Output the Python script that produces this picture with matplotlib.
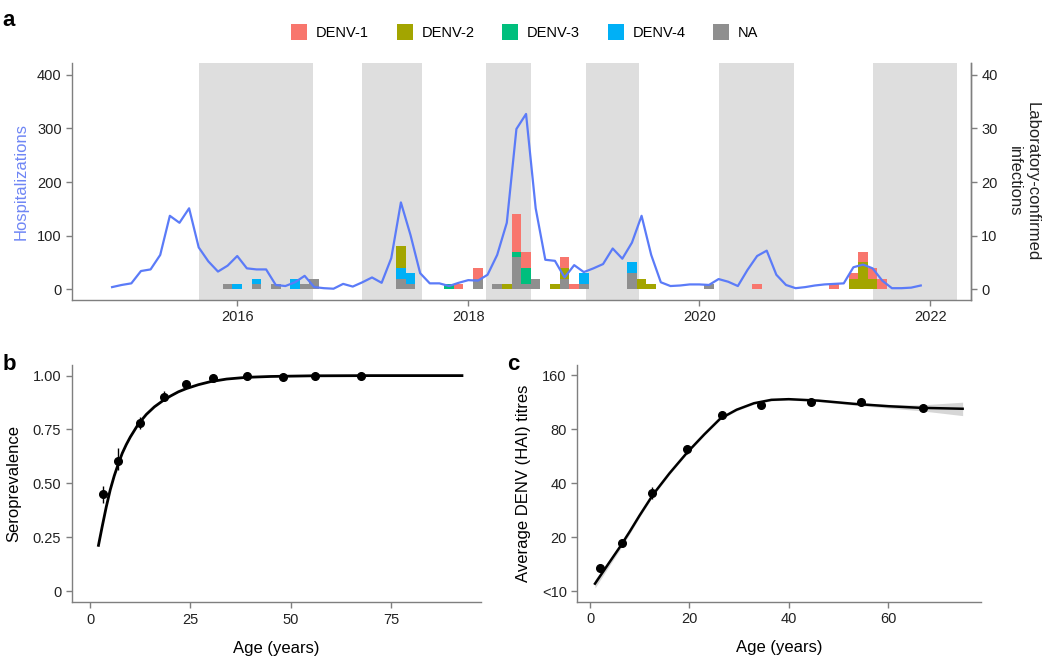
import matplotlib
matplotlib.use("Agg")
import matplotlib.pyplot as plt
from matplotlib.patches import Patch
import pandas as pd

plt.rcParams['font.family'] = ['Liberation Sans', 'DejaVu Sans']

# ---- panel a: monthly hospitalizations (Dec 2014 - Dec 2021)
hosp_start, hosp_end = '2014-12', '2021-12'
hospitalizations = [4,
    8, 11, 34, 37, 64, 137, 124, 151, 78, 52, 33, 44,    # 2015
    62, 39, 37, 37, 8, 6, 13, 25, 4, 2, 1, 10,           # 2016
    5, 13, 22, 12, 58, 162, 101, 30, 11, 11, 6, 12,      # 2017
    17, 16, 27, 64, 124, 299, 327, 151, 55, 53, 22, 45,  # 2018
    32, 39, 47, 76, 57, 87, 137, 64, 13, 6, 7, 9,        # 2019
    9, 8, 19, 14, 6, 36, 62, 72, 27, 8, 2, 4,            # 2020
    7, 9, 10, 11, 41, 46, 39, 16, 2, 2, 3, 7]            # 2021

# lab-confirmed infections per month, by serotype
bar_months = ['2015-12', '2016-01', '2016-03', '2016-05', '2016-07', '2016-08', '2016-09',
              '2017-06', '2017-07', '2017-11', '2017-12', '2018-02', '2018-04', '2018-05',
              '2018-06', '2018-07', '2018-08', '2018-10', '2018-11', '2018-12', '2019-01',
              '2019-06', '2019-07', '2019-08', '2020-02', '2020-07', '2021-03', '2021-05',
              '2021-06', '2021-07', '2021-08']
na_cnt = [1, 0, 1, 1, 0, 1, 2, 2, 1, 0, 0, 2, 1, 0, 6, 1, 2, 0, 2, 0, 1, 3, 0, 0, 1, 0, 0, 0, 0, 0, 0]
denv4 = [0, 1, 1, 0, 2, 0, 0, 2, 2, 0, 0, 0, 0, 0, 0, 0, 0, 0, 0, 0, 2, 2, 0, 0, 0, 0, 0, 0, 0, 0, 0]
denv3 = [0, 0, 0, 0, 0, 0, 0, 0, 0, 1, 0, 0, 0, 0, 1, 3, 0, 0, 0, 0, 0, 0, 0, 0, 0, 0, 0, 0, 0, 0, 0]
denv2 = [0, 0, 0, 0, 0, 0, 0, 4, 0, 0, 0, 0, 0, 1, 0, 0, 0, 1, 2, 0, 0, 0, 2, 1, 0, 0, 0, 2, 5, 2, 0]
denv1 = [0, 0, 0, 0, 0, 0, 0, 0, 0, 0, 1, 2, 0, 0, 7, 3, 0, 0, 2, 1, 0, 0, 0, 0, 0, 1, 1, 1, 2, 2, 2]

# shaded periods (decimal years)
shade_start = [2015.67, 2017.08, 2018.15, 2019.02, 2020.17, 2021.50]
shade_end = [2016.66, 2017.60, 2018.54, 2019.48, 2020.82, 2022.23]

# ---- panel b: seroprevalence by age
b_age = [3.1, 7.0, 12.5, 18.5, 24.0, 30.5, 39.0, 48.0, 56.0, 67.5]
b_prev = [0.449, 0.604, 0.782, 0.901, 0.960, 0.988, 0.996, 0.993, 1.0, 0.998]
b_lo = [0.41, 0.56, 0.75, 0.88, 0.95, 0.98, 0.99, 0.988, 0.997, 0.995]
b_hi = [0.49, 0.665, 0.81, 0.93, 0.97, 0.993, 0.999, 0.997, 1.0, 1.0]
b_fit_age = [2, 3, 4, 5, 6, 7, 8, 9, 10, 12, 14, 16, 18, 20, 22, 24, 27, 30, 34, 39, 45, 55, 70, 93]
b_fit = [0.206, 0.30, 0.39, 0.47, 0.535, 0.59, 0.64, 0.68, 0.715, 0.775, 0.82, 0.855, 0.882,
         0.905, 0.925, 0.94, 0.958, 0.972, 0.984, 0.992, 0.996, 0.999, 1.0, 1.0]

# ---- panel c: average HAI titres by age
c_age = [2.0, 6.5, 12.5, 19.5, 26.5, 34.5, 44.5, 54.5, 67.0]
c_titre = [13.5, 18.5, 35.1, 61.8, 96.6, 108.8, 114.1, 114.1, 105.6]
c_lo = [12.9, 17.6, 32.5, 58.5, 92, 105, 110.5, 111, 102.5]
c_hi = [14.1, 19.4, 38, 65.5, 101, 112.5, 117.5, 117, 108.5]
c_fit_age = [1, 4, 6, 8, 10, 12.75, 16, 19.5, 23, 26.2, 29.5, 33, 36.5, 40, 46, 53, 60, 66.4, 75]
c_fit = [11.0, 14.6, 17.6, 21.5, 26.5, 34.8, 45.5, 59.2, 75, 91.8, 103, 112, 117, 118,
         115.8, 111.2, 107.8, 105.6, 104.3]
c_fit_lo = [10.4, 14.0, 17.0, 20.9, 25.9, 34.1, 44.7, 58.3, 74, 90.5, 101.6, 110.5, 115.5, 116.5,
            114.2, 109.3, 105.3, 101.8, 95.5]
c_fit_hi = [11.6, 15.2, 18.2, 22.1, 27.1, 35.5, 46.3, 60.1, 76, 93.1, 104.4, 113.5, 118.5, 119.5,
            117.4, 113.1, 110.3, 109.5, 113.5]

colors = {'DENV-1': '#F8766D', 'DENV-2': '#A3A500', 'DENV-3': '#00BF7D',
          'DENV-4': '#00B0F6', 'NA': '#8F8F8F'}
line_blue = '#5B7BF8'
spine_col = '#7F7F7F'
tick_fs = 10.5
lab_fs = 12


def to_year(s):
    y, m = s.split('-')
    return int(y) + (int(m) - 1) / 12


def style(ax, right=False):
    ax.spines['top'].set_visible(False)
    if not right:
        ax.spines['right'].set_visible(False)
    for sp in ax.spines.values():
        sp.set_color(spine_col)
        sp.set_linewidth(1.0)
    ax.tick_params(colors=spine_col, labelcolor='#222222', labelsize=tick_fs, length=4, width=1)


fig = plt.figure(figsize=(10.5, 6.6), dpi=100)

# ---------------- panel a
ax = fig.add_axes([0.0686, 0.5455, 0.856, 0.359])
ax2 = ax.twinx()
ax.set_zorder(ax2.get_zorder() + 1)
ax.patch.set_visible(False)

for s, e in zip(shade_start, shade_end):
    ax2.axvspan(s, e, color='#DEDEDE', lw=0, zorder=0)

bx = [to_year(m) for m in bar_months]
bottom = [0] * len(bx)
for name, vals in [('NA', na_cnt), ('DENV-4', denv4), ('DENV-3', denv3),
                   ('DENV-2', denv2), ('DENV-1', denv1)]:
    ax2.bar(bx, vals, width=1 / 12, bottom=bottom, color=colors[name], lw=0, zorder=2)
    bottom = [b + v for b, v in zip(bottom, vals)]

hx = [p.year + (p.month - 1) / 12 for p in pd.period_range(hosp_start, hosp_end, freq='M')]
ax.plot(hx, hospitalizations, color=line_blue, lw=1.6, zorder=3)

ax.set_xlim(2014.57, 2022.35)
ax.set_ylim(-20, 422)
ax2.set_ylim(-2, 42.2)
ax.set_xticks([2016, 2018, 2020, 2022])
ax.set_yticks([0, 100, 200, 300, 400])
ax2.set_yticks([0, 10, 20, 30, 40])
style(ax, right=True)
style(ax2, right=True)
ax2.spines['left'].set_visible(False)
ax2.spines['bottom'].set_visible(False)
ax.set_ylabel('Hospitalizations', color='#6F86F5', fontsize=lab_fs, labelpad=6)
ax2.set_ylabel('Laboratory-confirmed\ninfections', fontsize=lab_fs, rotation=-90,
               labelpad=30, color='#222222')

handles = [Patch(facecolor=colors[k], edgecolor='none', label=k) for k in colors]
fig.legend(handles=handles, loc='center', bbox_to_anchor=(0.50, 0.951), ncol=5,
           frameon=False, fontsize=10.5, handlelength=1.1, handleheight=1.3,
           columnspacing=1.9, handletextpad=0.6)

# ---------------- panel b
axb = fig.add_axes([0.0683, 0.0874, 0.3898, 0.3595])
axb.plot(b_fit_age, b_fit, color='black', lw=2.0, solid_capstyle='butt')
axb.vlines(b_age, b_lo, b_hi, color='black', lw=1)
axb.plot(b_age, b_prev, 'o', color='black', ms=5.5)
axb.set_xlim(-4.6, 97.4)
axb.set_ylim(-0.052, 1.049)
axb.set_xticks([0, 25, 50, 75])
axb.set_yticks([0, 0.25, 0.5, 0.75, 1.0])
axb.set_yticklabels(['0', '0.25', '0.50', '0.75', '1.00'])
style(axb)
axb.set_xlabel('Age (years)', fontsize=lab_fs, labelpad=10)
axb.set_ylabel('Seroprevalence', fontsize=lab_fs, labelpad=8)

# ---------------- panel c
axc = fig.add_axes([0.5498, 0.0883, 0.3845, 0.3586])
axc.set_yscale('log', base=2)
axc.fill_between(c_fit_age, c_fit_lo, c_fit_hi, color='#D6D6D6', lw=0)
axc.plot(c_fit_age, c_fit, color='black', lw=1.8)
axc.vlines(c_age, c_lo, c_hi, color='black', lw=1)
axc.plot(c_age, c_titre, 'o', color='black', ms=5.5)
axc.set_xlim(-2.56, 78.7)
axc.set_ylim(8.72, 183)
axc.set_xticks([0, 20, 40, 60])
axc.set_yticks([10, 20, 40, 80, 160])
axc.set_yticklabels(['<10', '20', '40', '80', '160'])
axc.yaxis.set_minor_locator(matplotlib.ticker.NullLocator())
style(axc)
axc.set_xlabel('Age (years)', fontsize=lab_fs, labelpad=10)
axc.set_ylabel('Average DENV (HAI) titres', fontsize=lab_fs, labelpad=8)

# panel letters
fig.text(0.002, 0.985, 'a', fontsize=16, fontweight='bold', va='top')
fig.text(0.002, 0.447, 'b', fontsize=16, fontweight='bold', va='center')
fig.text(0.483, 0.447, 'c', fontsize=16, fontweight='bold', va='center')

fig.savefig('out.png', dpi=100)
